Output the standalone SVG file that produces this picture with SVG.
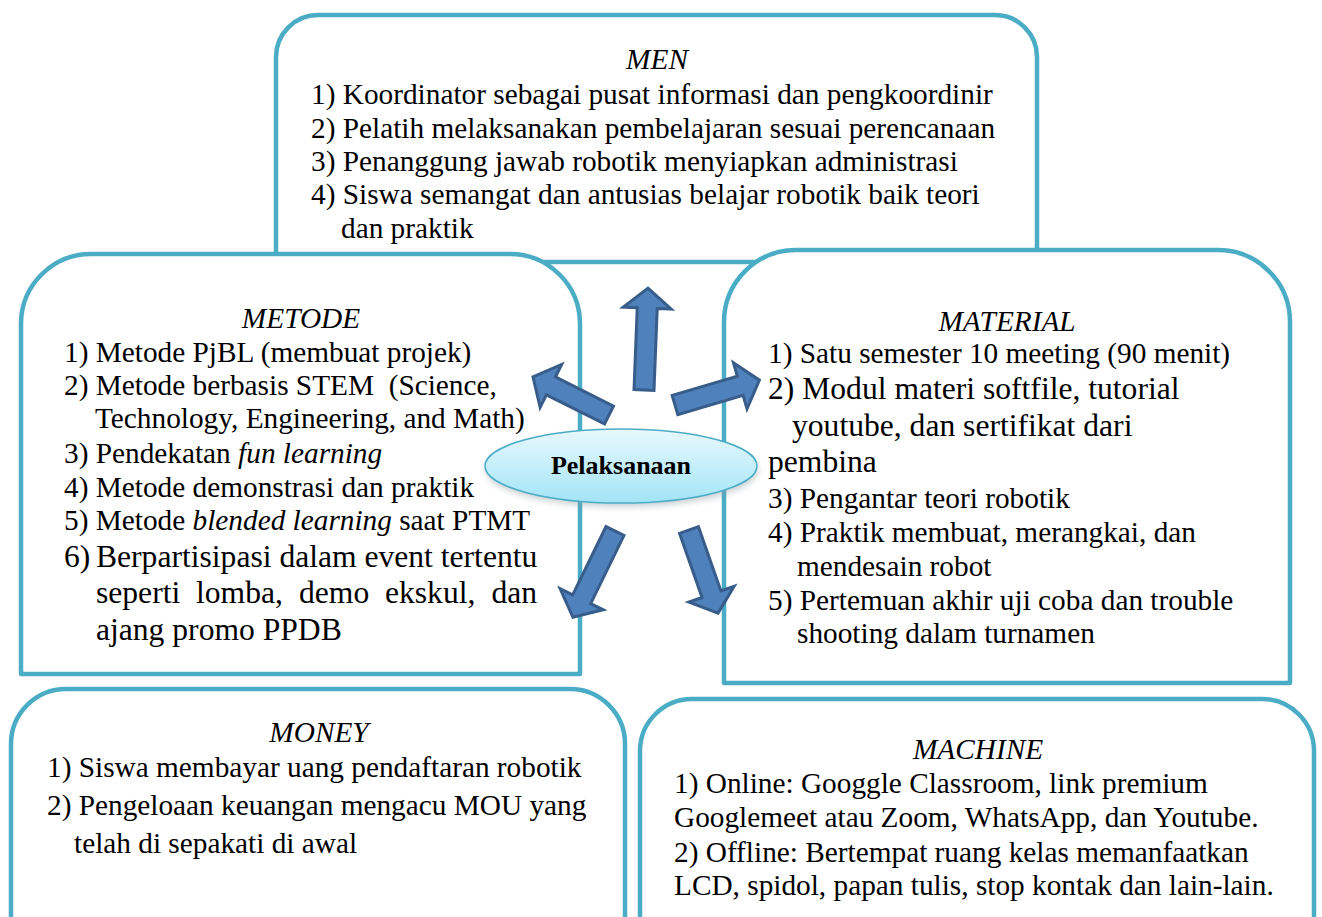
<svg xmlns="http://www.w3.org/2000/svg" width="1322" height="917" viewBox="0 0 1322 917">
<style>
.box{fill:#ffffff;stroke:#4BACC6;stroke-width:4.5;stroke-linejoin:round}
.arr{fill:#4F81BD;stroke:#385D8A;stroke-width:3;stroke-linejoin:miter}
text{font-family:"Liberation Serif","Times New Roman",serif;fill:#000;white-space:pre}
.t{font-size:29.3px}
.b{font-size:31.6px}
.h{font-size:29.3px;font-style:italic;text-anchor:middle}
.i{font-style:italic}
.c{font-size:26px;font-weight:bold;text-anchor:middle}
</style>
<defs>
<linearGradient id="eg" x1="0" y1="0" x2="0" y2="1">
<stop offset="0" stop-color="#E8F9FD"/>
<stop offset="1" stop-color="#A3E4F6"/>
</linearGradient>
<filter id="sh" x="-20%" y="-40%" width="140%" height="180%">
<feGaussianBlur stdDeviation="3"/>
</filter>
</defs>

<g id="men">
<path class="box" d="M276,262 L276,57 A42,42 0 0 1 318,15 L995,15 A42,42 0 0 1 1037,57 L1037,262 Z"/>
<text class="h" x="657" y="69">MEN</text>
<text class="t" x="311" y="104">1) Koordinator sebagai pusat informasi dan pengkoordinir</text>
<text class="t" x="311" y="138">2) Pelatih melaksanakan pembelajaran sesuai perencanaan</text>
<text class="t" x="311" y="171">3) Penanggung jawab robotik menyiapkan administrasi</text>
<text class="t" x="311" y="204">4) Siswa semangat dan antusias belajar robotik baik teori</text>
<text class="t" x="341" y="238">dan praktik</text>
</g>

<g id="metode">
<path class="box" d="M21,674 L21,324 A70,70 0 0 1 91,254 L510,254 A70,70 0 0 1 580,324 L580,674 Z"/>
<text class="h" x="301" y="328">METODE</text>
<text class="t" x="64" y="362">1) Metode PjBL (membuat projek)</text>
<text class="t" x="64" y="395">2) Metode berbasis STEM  (Science,</text>
<text class="t" x="95" y="428">Technology, Engineering, and Math)</text>
<text class="t" x="64" y="463">3) Pendekatan <tspan class="i">fun learning</tspan></text>
<text class="t" x="64" y="497">4) Metode demonstrasi dan praktik</text>
<text class="t" x="64" y="530">5) Metode <tspan class="i">blended learning</tspan> saat PTMT</text>
<text class="b" x="64" y="567">6)</text>
<text class="b" x="96" y="567">Berpartisipasi dalam event tertentu</text>
<text class="b" x="96" y="603">seperti</text>
<text class="b" x="196" y="603">lomba,</text>
<text class="b" x="299" y="603">demo</text>
<text class="b" x="385" y="603">ekskul,</text>
<text class="b" x="537" y="603" text-anchor="end">dan</text>
<text class="b" x="96" y="640">ajang promo PPDB</text>
</g>

<g id="material">
<path class="box" d="M724,683 L724,322 A72,72 0 0 1 796,250 L1218,250 A72,72 0 0 1 1290,322 L1290,683 Z"/>
<text class="h" x="1007" y="331">MATERIAL</text>
<text class="t" x="768" y="363">1) Satu semester 10 meeting (90 menit)</text>
<text class="b" x="768" y="399">2) Modul materi softfile, tutorial</text>
<text class="b" x="792" y="436">youtube, dan sertifikat dari</text>
<text class="b" x="768" y="472">pembina</text>
<text class="t" x="768" y="508">3) Pengantar teori robotik</text>
<text class="t" x="768" y="542">4) Praktik membuat, merangkai, dan</text>
<text class="t" x="797" y="576">mendesain robot</text>
<text class="t" x="768" y="610">5) Pertemuan akhir uji coba dan trouble</text>
<text class="t" x="797" y="643">shooting dalam turnamen</text>
</g>

<g id="money">
<path class="box" d="M11,1020 L11,744 A55,55 0 0 1 66,689 L570,689 A55,55 0 0 1 625,744 L625,1020 Z"/>
<text class="h" x="319" y="742">MONEY</text>
<text class="t" x="47" y="777">1) Siswa membayar uang pendaftaran robotik</text>
<text class="t" x="47" y="815">2) Pengeloaan keuangan mengacu MOU yang</text>
<text class="t" x="74" y="853">telah di sepakati di awal</text>
</g>

<g id="machine">
<path class="box" d="M640,1030 L640,751 A52,52 0 0 1 692,699 L1262,699 A52,52 0 0 1 1314,751 L1314,1030 Z"/>
<text class="h" x="978" y="759">MACHINE</text>
<text class="t" x="674" y="793">1) Online: Googgle Classroom, link premium</text>
<text class="t" x="674" y="827">Googlemeet atau Zoom, WhatsApp, dan Youtube.</text>
<text class="t" x="674" y="862">2) Offline: Bertempat ruang kelas memanfaatkan</text>
<text class="t" x="674" y="895">LCD, spidol, papan tulis, stop kontak dan lain-lain.</text>
</g>

<g id="connectors">
<polygon class="arr" transform="translate(644,390) rotate(-87.75)" points="0,-10 82,-10 82,-24 102,0 82,24 82,10 0,10"/>
<polygon class="arr" transform="translate(609,415) rotate(-153.4)" points="0,-10 65,-10 65,-24 85,0 65,24 65,10 0,10"/>
<polygon class="arr" transform="translate(675,405) rotate(-16.4)" points="0,-10 68,-10 68,-24 88,0 68,24 68,10 0,10"/>
<polygon class="arr" transform="translate(615,531) rotate(116)" points="0,-10 76,-10 76,-24 96,0 76,24 76,10 0,10"/>
<polygon class="arr" transform="translate(689,530) rotate(70.7)" points="0,-10 68,-10 68,-24 88,0 68,24 68,10 0,10"/>
</g>

<g id="pelaksanaan">
<ellipse cx="622" cy="470" rx="136" ry="37" fill="#8a9aa0" opacity="0.45" filter="url(#sh)"/>
<ellipse cx="621" cy="466" rx="136" ry="37" fill="url(#eg)" stroke="#4BACC6" stroke-width="1.5"/>
<text class="c" x="621" y="474">Pelaksanaan</text>
</g>
</svg>
